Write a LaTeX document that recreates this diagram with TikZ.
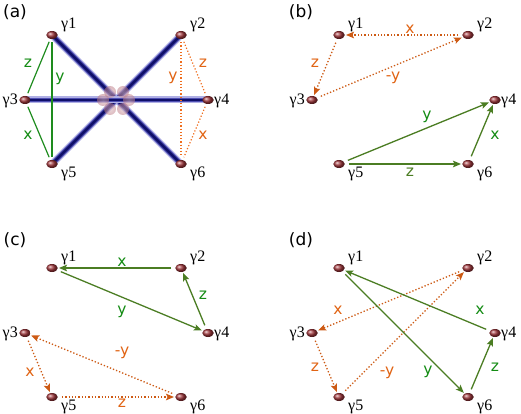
\documentclass[tikz,border=0pt]{standalone}
\usepackage{fontspec}
\setmainfont{Liberation Serif}
\newfontfamily\sansf{DejaVu Sans}
\usetikzlibrary{arrows.meta,shapes.geometric}
\definecolor{gline}{RGB}{30,140,30}
\definecolor{garr}{RGB}{75,125,35}
\definecolor{glab}{RGB}{20,140,20}
\definecolor{oline}{RGB}{240,110,30}
\definecolor{oarr}{RGB}{205,90,20}
\definecolor{olab}{RGB}{225,100,20}
\definecolor{dotc}{RGB}{160,55,60}
\definecolor{navyA}{RGB}{175,175,228}
\definecolor{navyB}{RGB}{80,80,180}
\definecolor{navyC}{RGB}{15,15,105}
\definecolor{blob}{RGB}{190,125,135}
\tikzset{
  dot/.style={ellipse,minimum width=11.5pt,minimum height=8pt,inner sep=0pt,shading=ball,ball color=dotc},
  gname/.style={font=\fontsize{16}{16}\selectfont,inner sep=0pt,text=black},
  lbl/.style={font=\sansf\fontsize{15.5}{15.5}\selectfont,inner sep=0pt},
  plbl/.style={font=\sansf\fontsize{17}{17}\selectfont,inner sep=0pt},
  gplain/.style={draw=gline,line width=1.2pt,shorten <=3pt,shorten >=3pt},
  oplain/.style={draw=oline,line width=1.2pt,dash pattern=on 1.2pt off 2pt,shorten <=3pt,shorten >=3pt},
  garrow/.style={draw=garr,line width=1.3pt,-{Stealth[length=8pt,width=6.5pt,inset=1.5pt]},shorten <=4pt,shorten >=1pt},
  oarrow/.style={draw=oarr,line width=1.3pt,dash pattern=on 1.3pt off 2pt,-{Stealth[length=8pt,width=6.5pt,inset=1.5pt,sep=0pt]},shorten <=4pt,shorten >=1pt},
}
\newcommand{\panelnodes}[3]{%
  \node[dot] (#11) at (52+#2,35+#3) {};
  \node[dot] (#12) at (181+#2,35+#3) {};
  \node[dot] (#13) at (25+#2,100+#3) {};
  \node[dot] (#14) at (208+#2,100+#3) {};
  \node[dot] (#15) at (52+#2,164+#3) {};
  \node[dot] (#16) at (181+#2,164+#3) {};
  \node[gname,anchor=west] (#1t1) at (61+#2,25+#3) {γ1};
  \node[gname,anchor=west] (#1t2) at (190+#2,25+#3) {γ2};
  \node[gname,anchor=east] (#1t3) at (18+#2,101+#3) {γ3};
  \node[gname,anchor=west] (#1t4) at (214+#2,101+#3) {γ4};
  \node[gname,anchor=west] (#1t5) at (61+#2,174+#3) {γ5};
  \node[gname,anchor=west] (#1t6) at (190+#2,174+#3) {γ6};
}
\begin{document}
\begin{tikzpicture}[x=1pt,y=-1pt]
\useasboundingbox[fill=white] (0,0) rectangle (521,414);
% ---------- (a) ----------
\node[plbl] (pa) at (15,12) {(a)};
\coordinate (a1c) at (52,35);
\coordinate (a2c) at (181,35);
\coordinate (a3c) at (25,100);
\coordinate (a4c) at (208,100);
\coordinate (a5c) at (52,164);
\coordinate (a6c) at (181,164);
\foreach \s/\e in {a1c/a6c,a2c/a5c,a3c/a4c}{
  \draw[navyA,line width=7pt] (\s) -- (\e);
  \draw[navyB,line width=4.8pt] (\s) -- (\e);
  \draw[navyC,line width=2.6pt] (\s) -- (\e);
}
\foreach \bx/\by in {110/92,123/92,103/100,129/100,110/109,123/109}{
  \shade[inner color=blob!55!white,outer color=blob,opacity=0.55] (\bx,\by) circle (6pt);
}
\panelnodes{a}{0}{0}
\draw[gplain] (a1) -- (a3);
\draw[gplain] (a1) -- (a5);
\draw[gplain] (a3) -- (a5);
\draw[oplain] (a2) -- (a6);
\draw[oplain] (a2) -- (a4);
\draw[oplain] (a4) -- (a6);
\node[lbl,text=glab] (az) at (28,63) {z};
\node[lbl,text=glab] (ay) at (60,79) {y};
\node[lbl,text=glab] (ax) at (28,135) {x};
\node[lbl,text=olab] (ay2) at (173,78) {y};
\node[lbl,text=olab] (az2) at (203,63) {z};
\node[lbl,text=olab] (ax2) at (203,135) {x};
% ---------- (b) ----------
\node[plbl] (pb) at (301,12) {(b)};
\panelnodes{b}{287}{0}
\draw[oarrow] (b2) -- (b1);
\draw[oarrow] (b1) -- (b3);
\draw[oarrow] (b3) -- (b2);
\draw[garrow] (b5) -- (b4);
\draw[garrow] (b5) -- (b6);
\draw[garrow] (b6) -- (b4);
\node[lbl,text=olab] (bx) at (410,29) {x};
\node[lbl,text=olab] (bz) at (315,63) {z};
\node[lbl,text=olab] (by) at (393,78) {-y};
\node[lbl,text=glab] (by2) at (427,117) {y};
\node[lbl,text=garr] (bz2) at (410,172) {z};
\node[lbl,text=glab] (bx2) at (495,135) {x};
% ---------- (c) ----------
\node[plbl] (pc) at (15,240) {(c)};
\panelnodes{c}{0}{233}
\draw[garrow] (c2) -- (c1);
\draw[garrow] (c1) -- (c4);
\draw[garrow] (c4) -- (c2);
\draw[oarrow] (c6) -- (c3);
\draw[oarrow] (c3) -- (c5);
\draw[oarrow] (c5) -- (c6);
\node[lbl,text=glab] (cx) at (122,262) {x};
\node[lbl,text=glab] (cy) at (122,312) {y};
\node[lbl,text=glab] (cz) at (203,295) {z};
\node[lbl,text=olab] (cy2) at (122,353) {-y};
\node[lbl,text=olab] (cx2) at (30,372) {x};
\node[lbl,text=olab] (cz2) at (122,403) {z};
% ---------- (d) ----------
\node[plbl] (pd) at (301,240) {(d)};
\panelnodes{d}{287}{233}
\draw[oarrow] (d2) -- (d3);
\draw[oarrow] (d3) -- (d5);
\draw[oarrow] (d5) -- (d2);
\draw[garrow] (d4) -- (d1);
\draw[garrow] (d1) -- (d6);
\draw[garrow] (d6) -- (d4);
\node[lbl,text=olab] (dx) at (338,310) {x};
\node[lbl,text=olab] (dz) at (315,367) {z};
\node[lbl,text=olab] (dy) at (387,373) {-y};
\node[lbl,text=glab] (dx2) at (480,310) {x};
\node[lbl,text=glab] (dy2) at (428,372) {y};
\node[lbl,text=glab] (dz2) at (495,367) {z};
\end{tikzpicture}
\end{document}
